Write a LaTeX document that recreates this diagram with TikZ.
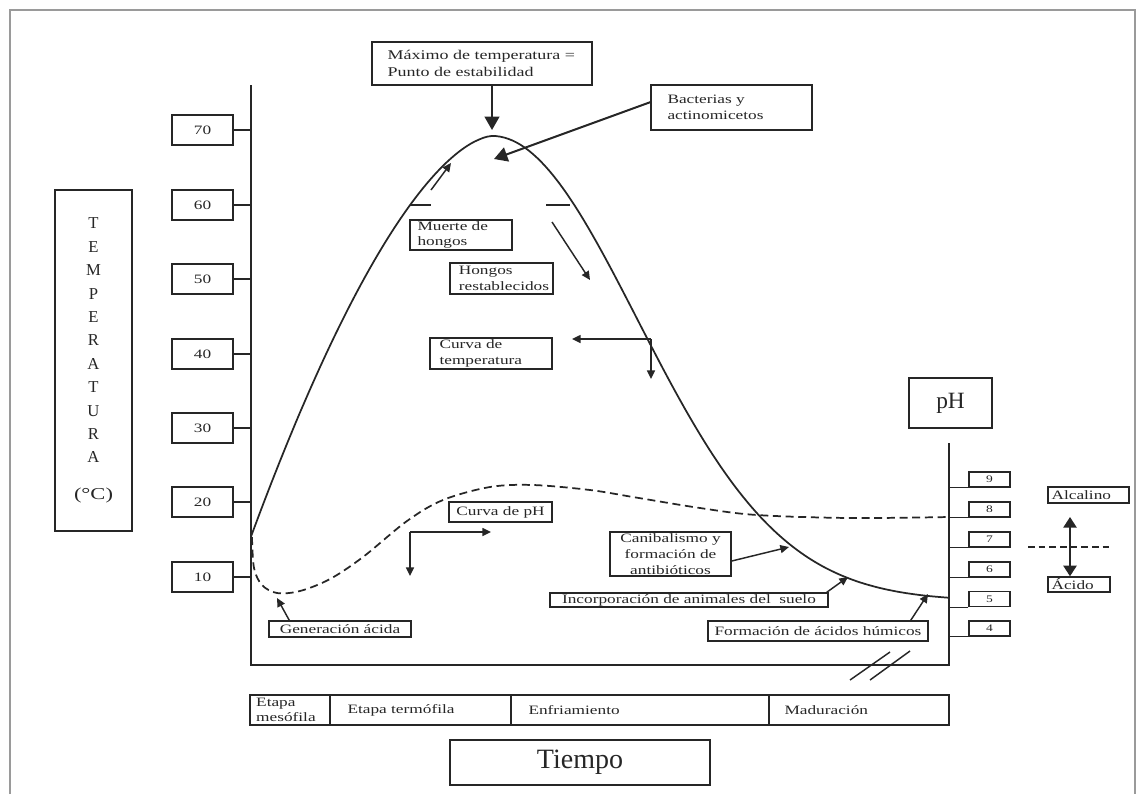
\documentclass[tikz,border=0pt]{standalone}
\usepackage{fontspec}
\setmainfont{Liberation Serif}
\newfontfamily\labfam[FakeStretch=1.35]{Liberation Serif}
\usetikzlibrary{arrows.meta}
\newdimen\pxu \pxu=0.75pt
\newcommand\labf{\labfam\fontsize{9.6pt}{11.8pt}\selectfont}
\newcommand\titf{\labfam\fontsize{10pt}{12.75pt}\selectfont}
\newcommand\phnf{\labfam\fontsize{7.5pt}{9pt}\selectfont}
\newcommand\tempf{\fontsize{12.5pt}{17.55pt}\selectfont}
\definecolor{ink}{HTML}{262626}
\definecolor{framec}{HTML}{9A9A9A}
\tikzset{
 box/.style={draw=ink, line width=1.1pt, inner sep=0pt, text=ink, font=\labf, align=center},
 txt/.style={inner sep=0pt, text=ink, font=\labf, align=left, anchor=west},
 ln/.style={draw=ink, line width=1.1pt},
 axisln/.style={draw=ink, line width=1.5pt},
 crv/.style={draw=ink, line width=1.3pt},
 arr/.style={draw=ink, line width=1.1pt, -{Triangle[length=6.5pt,width=6pt]}},
 bigarr/.style={draw=ink, line width=1.5pt, -{Triangle[length=10pt,width=11pt]}},
 dblarr/.style={draw=ink, line width=1.2pt, {Triangle[length=8pt,width=10pt]}-{Triangle[length=8pt,width=10pt]}},
}
\begin{document}
\begin{tikzpicture}[x=0.75pt, y=-0.75pt]
\useasboundingbox (0,0) rectangle (1145,794);
\fill[white] (0,0) rectangle (1145,794);
% outer frame
\draw[framec, line width=1.5pt] (10,794) -- (10,10) -- (1135,10) -- (1135,794);

% axes
\coordinate (O) at (251,665);
\coordinate (Otop) at (251,85);
\coordinate (R) at (949,665);
\coordinate (Rtop) at (949,443);
\draw[axisln] (Otop) -- (O) -- (R) -- (Rtop);

% temperature axis label
\node[box, minimum width=77\pxu, minimum height=341\pxu, font=\tempf] (templ) at (93.5,360.5)
 {T\\E\\M\\P\\E\\R\\A\\T\\U\\R\\A\\[10pt]{\labfam\fontsize{12.5pt}{15pt}\selectfont (°C)}};

% temperature scale
\foreach \v/\yy in {70/130,60/205,50/279,40/354,30/428,20/502,10/577}{
 \node[box, minimum width=61\pxu, minimum height=30\pxu] (t\v) at (202.5,\yy) {\v};
 \draw[ln] (t\v.east) -- (t\v.east -| O);
}

% pH scale
\node[box, minimum width=83\pxu, minimum height=50\pxu, font=\fontsize{17.5pt}{20pt}\selectfont] (phl) at (950.5,403) {pH};
\foreach \v/\yy in {9/479.5,8/509.5,7/539.5,6/569.5,5/599,4/628.5}{
 \node[box, minimum width=41\pxu, minimum height=15\pxu, font=\phnf] (p\v) at (989.5,\yy) {\v};
 \draw[ln] (p\v.south west) -- (p\v.south west -| R);
}

% curves
\draw[crv] plot[domain=251:491.5, samples=60] (\x,{136+95.5*((492-\x)/100)^1.63})
 -- plot[domain=491.5:948, samples=110] (\x,{601-465*exp(-(((\x-492)/100)^2)/4.2127)});
\draw[crv, dash pattern=on 6pt off 3.5pt] plot[smooth, tension=0.55] coordinates {(252,537) (254,568) (262,585) (277,593) (300,591) (330,579) (363,557) (407,521) (443,500) (490,487) (533,485) (590,490) (633,497) (700,508) (757,515) (850,518) (949,517)};

% top boxes
\node[box, minimum width=220\pxu, minimum height=43\pxu] (title) at (482,63.5) {};
\node[txt, font=\titf] (titleT) at ([xshift=12pt]title.west) {Máximo de temperatura =\\Punto de estabilidad};
\coordinate (pk) at (492,130);
\draw[bigarr] (pk |- title.south) -- (pk);

\node[box, minimum width=161\pxu, minimum height=45\pxu] (bact) at (731.5,107.5) {};
\node[txt] (bactT) at ([xshift=12.75pt]bact.west) {Bacterias y\\actinomicetos};
\coordinate (bt) at (494,159);
\draw[bigarr] ([yshift=4pt]bact.west) -- (bt);

\coordinate (sa1) at (431,190);
\coordinate (sa2) at (451,163);
\draw[arr] (sa1) -- (sa2);

\coordinate (mk1) at (410,205);
\coordinate (mk2) at (431,205);
\coordinate (mk3) at (546,205);
\coordinate (mk4) at (570,205);
\draw[ln] (mk1) -- (mk2);
\draw[ln] (mk3) -- (mk4);

\node[box, minimum width=102\pxu, minimum height=30\pxu] (muerte) at (461,235) {};
\node[txt] (muerteT) at ([xshift=6pt]muerte.west) {Muerte de\\hongos};

\node[box, minimum width=103\pxu, minimum height=31\pxu] (hongos) at (501.5,278.5) {};
\node[txt] (hongosT) at ([xshift=7pt]hongos.west) {Hongos\\restablecidos};
\coordinate (ha1) at (552,222);
\coordinate (ha2) at (590,280);
\draw[arr] (ha1) -- (ha2);

\node[box, minimum width=122\pxu, minimum height=31\pxu] (curvat) at (491,353.5) {};
\node[txt] (curvatT) at ([xshift=7.5pt]curvat.west) {Curva de\\temperatura};
\coordinate (ct) at (651,339);
\coordinate (ct1) at (572,339);
\coordinate (ct2) at (651,379);
\draw[arr] (ct) -- (ct1);
\draw[arr] (ct) -- (ct2);

\node[box, minimum width=103\pxu, minimum height=20\pxu] (curvaph) at (500.5,512) {Curva de pH};
\coordinate (cp) at (410,532);
\coordinate (cp1) at (491,532);
\coordinate (cp2) at (410,576);
\draw[arr] (cp) -- (cp1);
\draw[arr] (cp) -- (cp2);

\node[box, minimum width=121\pxu, minimum height=44\pxu] (canib) at (670.5,554) {Canibalismo y\\formación de\\antibióticos};
\coordinate (cb) at (789,547);
\draw[arr] ([yshift=-5.25pt]canib.east) -- (cb);

\node[box, minimum width=278\pxu, minimum height=14\pxu] (incorp) at (689,600) {Incorporación de animales del\ \ suelo};
\coordinate (ib) at (848,577);
\draw[arr] ([xshift=-1.5pt]incorp.north east) -- (ib);

\node[box, minimum width=220\pxu, minimum height=20\pxu] (form) at (818,631) {Formación de ácidos húmicos};
\coordinate (fb) at (928,594);
\draw[arr] ([xshift=-13.5pt]form.north east) -- (fb);

\node[box, minimum width=142\pxu, minimum height=16\pxu] (gen) at (340,629) {Generación ácida};
\coordinate (gb) at (277,598);
\draw[arr] ([xshift=15.75pt]gen.north west) -- (gb);

% alcalino / acido
\node[box, minimum width=81\pxu, minimum height=16\pxu] (alc) at (1088.5,495) {};
\node[txt] (alcT) at ([xshift=3pt]alc.west) {Alcalino};
\node[box, minimum width=62\pxu, minimum height=15\pxu] (acido) at (1079,584.5) {};
\node[txt] (acidoT) at ([xshift=3pt]acido.west) {Ácido};
\coordinate (dA) at (1070,517);
\coordinate (dB) at (dA |- acido.north);
\draw[dblarr] (dA) -- (dB);
\coordinate (nl1) at (1028,547);
\coordinate (nl2) at (1111,547);
\draw[ln, dash pattern=on 5pt off 3pt] (nl1) -- (nl2);

% axis break
\coordinate (s1a) at (850,680); \coordinate (s1b) at (890,652);
\coordinate (s2a) at (870,680); \coordinate (s2b) at (910,651);
\draw[ln] (s1a) -- (s1b);
\draw[ln] (s2a) -- (s2b);

% stage bar
\node[box, minimum width=80\pxu, minimum height=30\pxu] (st1) at (290,710) {};
\node[txt, font=\labfam\fontsize{9.6pt}{11.2pt}\selectfont] (st1T) at ([xshift=5pt]st1.west) {Etapa\\mesófila};
\node[box, minimum width=181\pxu, minimum height=30\pxu] (st2) at (420.5,710) {};
\node[txt] (st2T) at ([xshift=13.5pt]st2.west) {Etapa termófila};
\node[box, minimum width=258\pxu, minimum height=30\pxu] (st3) at (640,710) {};
\node[txt] (st3T) at ([xshift=13.5pt]st3.west) {Enfriamiento};
\node[box, minimum width=180\pxu, minimum height=30\pxu] (st4) at (859,710) {};
\node[txt] (st4T) at ([xshift=12pt]st4.west) {Maduración};

\node[box, minimum width=260\pxu, minimum height=45\pxu, font=\fontsize{21pt}{24pt}\selectfont] (tiempo) at (580,762.5) {Tiempo};
\end{tikzpicture}
\end{document}
